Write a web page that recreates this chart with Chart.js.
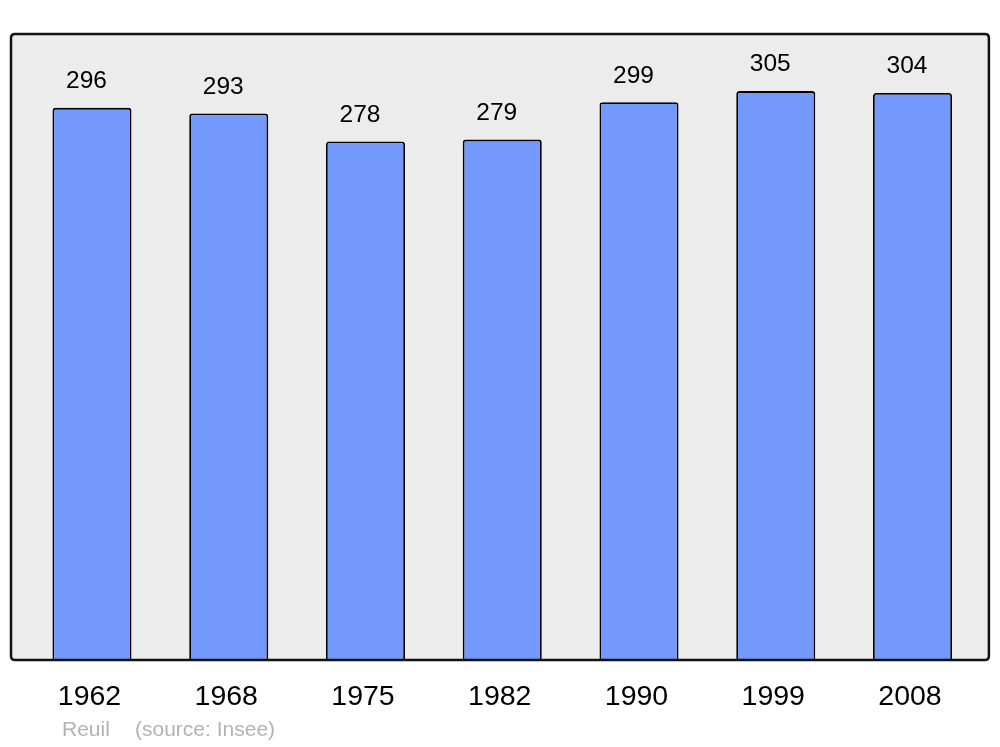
<!DOCTYPE html>
<html>
<head>
<meta charset="utf-8">
<script src="https://cdn.jsdelivr.net/npm/chart.js@4/dist/chart.umd.min.js"></script>
<style>
html,body{margin:0;padding:0;background:#fff;}
#wrap{width:1000px;height:747px;position:relative;}
</style>
</head>
<body>
<div id="wrap"><canvas id="c" width="1000" height="747"></canvas></div>
<script>
const years = ["1962","1968","1975","1982","1990","1999","2008"];
const population = [296, 293, 278, 279, 299, 305, 304];
const townName = "Reuil";
const sourceText = "(source: Insee)";

const FONT = "'Liberation Sans', Arial, sans-serif";

function roundRectPath(ctx, x, y, w, h, r) {
  ctx.beginPath();
  ctx.moveTo(x + r, y);
  ctx.lineTo(x + w - r, y);
  ctx.quadraticCurveTo(x + w, y, x + w, y + r);
  ctx.lineTo(x + w, y + h - r);
  ctx.quadraticCurveTo(x + w, y + h, x + w - r, y + h);
  ctx.lineTo(x + r, y + h);
  ctx.quadraticCurveTo(x, y + h, x, y + h - r);
  ctx.lineTo(x, y + r);
  ctx.quadraticCurveTo(x, y, x + r, y);
  ctx.closePath();
}

const framePlugin = {
  id: 'frame',
  frameRect(chart) {
    const a = chart.chartArea;
    return {x: a.left - 12.6, y: a.top, w: (a.right + 8) - (a.left - 12.6), h: a.bottom - a.top};
  },
  beforeDatasetsDraw(chart) {
    const ctx = chart.ctx, r = this.frameRect(chart);
    ctx.save();
    roundRectPath(ctx, r.x, r.y, r.w, r.h, 4);
    ctx.fillStyle = '#ececec';
    ctx.fill();
    ctx.restore();
  },
  afterDatasetsDraw(chart) {
    const ctx = chart.ctx, r = this.frameRect(chart);
    ctx.save();
    roundRectPath(ctx, r.x, r.y, r.w, r.h, 4);
    ctx.lineWidth = 2.5;
    ctx.strokeStyle = '#111';
    ctx.stroke();
    // value labels
    const meta = chart.getDatasetMeta(0);
    ctx.font = '24.5px ' + FONT;
    ctx.fillStyle = '#000';
    ctx.textAlign = 'center';
    ctx.textBaseline = 'middle';
    meta.data.forEach((bar, i) => {
      ctx.fillText(String(chart.data.datasets[0].data[i]), bar.x - 5.5, bar.y - 26.5);
    });
    // caption
    ctx.font = '21px ' + FONT;
    ctx.fillStyle = '#b3b3b3';
    ctx.textAlign = 'left';
    ctx.fillText(townName, 62, 730);
    ctx.fillText(sourceText, 135, 730);
    ctx.restore();
  }
};

new Chart(document.getElementById('c'), {
  type: 'bar',
  data: {
    labels: years,
    datasets: [{
      data: population,
      backgroundColor: '#7399ff',
      borderColor: '#000',
      borderWidth: 1.8,
      borderRadius: {topLeft: 3, topRight: 3, bottomLeft: 0, bottomRight: 0},
      borderSkipped: 'bottom',
      barPercentage: 0.578,
      categoryPercentage: 1.0
    }]
  },
  options: {
    responsive: false,
    animation: false,
    events: [],
    layout: {padding: {left: 23.6, right: 19.1, top: 34, bottom: 0}},
    plugins: {legend: {display: false}, tooltip: {enabled: false}, title: {display: false}},
    scales: {
      x: {
        grid: {display: false, drawTicks: false},
        border: {display: false},
        ticks: {color: '#000', font: {size: 28.5, family: FONT}, padding: 20.5, maxRotation: 0, labelOffset: -2.5},
        afterFit(scale) { scale.height = 87; }
      },
      y: {
        display: false,
        min: 0,
        max: 335.6
      }
    }
  },
  plugins: [framePlugin]
});
</script>
</body>
</html>
